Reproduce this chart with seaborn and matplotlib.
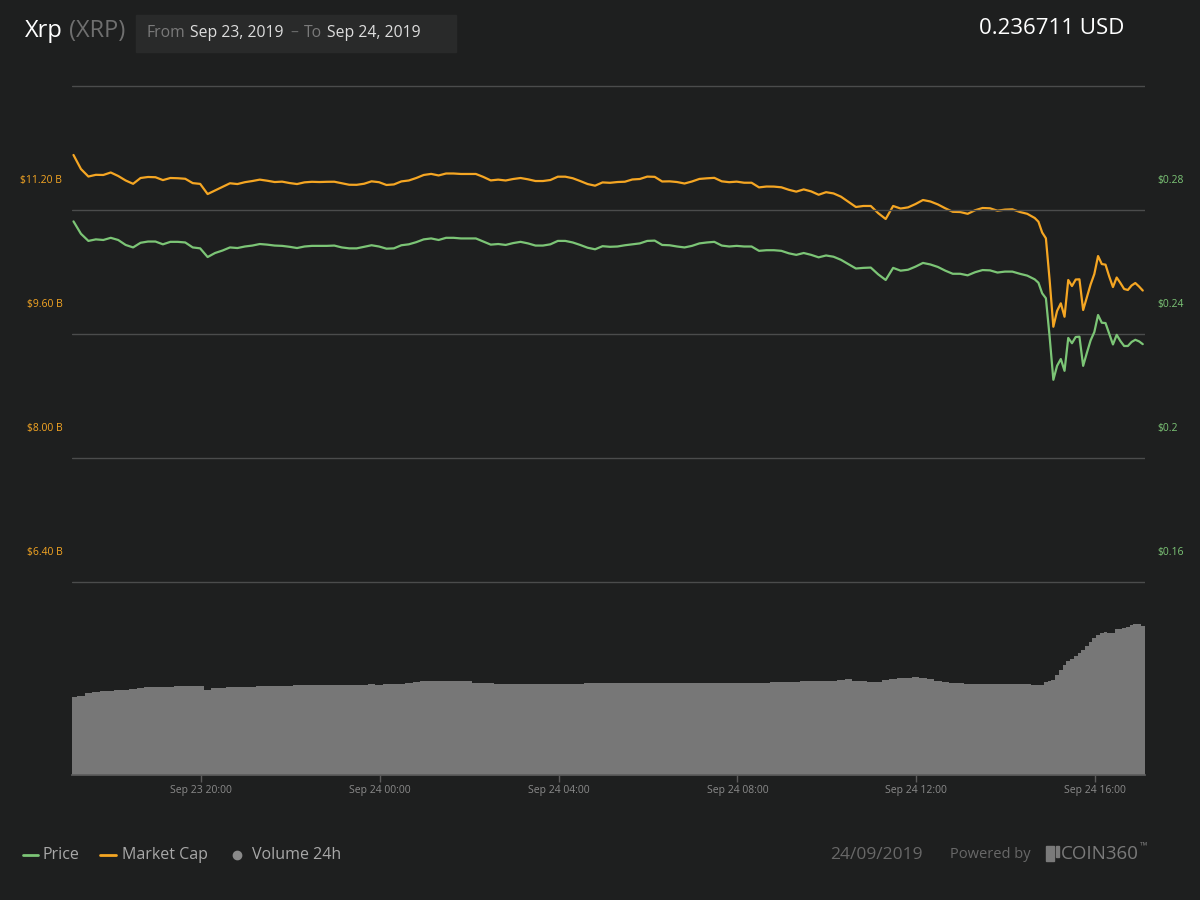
import numpy as np
import pandas as pd
import matplotlib
matplotlib.use("Agg")
import matplotlib.pyplot as plt
import matplotlib.dates as mdates
from matplotlib.lines import Line2D
from matplotlib.patches import Rectangle
import seaborn as sns

# ---- data ----
# 10-minute samples from Sep 23 17:09, then 5-minute samples for the last ~2.5 h
head_start = "2019-09-23 17:09"
tail_start = "2019-09-24 14:44"

price_head = [
    0.2763, 0.2723, 0.2700, 0.2705, 0.2703, 0.2710, 0.2703, 0.2687, 0.2679, 0.2694,
    0.2698, 0.2698, 0.2689, 0.2697, 0.2697, 0.2695, 0.2679, 0.2676, 0.2648, 0.2661,
    0.2669, 0.2679, 0.2677, 0.2682, 0.2685, 0.2690, 0.2688, 0.2685, 0.2684, 0.2681,
    0.2677, 0.2682, 0.2684, 0.2684, 0.2684, 0.2685, 0.2679, 0.2676, 0.2676, 0.2681,
    0.2686, 0.2682, 0.2675, 0.2676, 0.2686, 0.2689, 0.2696, 0.2705, 0.2708, 0.2703,
    0.2710, 0.2710, 0.2708, 0.2708, 0.2708, 0.2698, 0.2688, 0.2690, 0.2687, 0.2693,
    0.2697, 0.2692, 0.2685, 0.2685, 0.2689, 0.2700, 0.2700, 0.2695, 0.2687, 0.2678,
    0.2673, 0.2683, 0.2681, 0.2682, 0.2686, 0.2689, 0.2692, 0.2700, 0.2701, 0.2687,
    0.2686, 0.2682, 0.2679, 0.2684, 0.2692, 0.2695, 0.2697, 0.2685, 0.2682, 0.2684,
    0.2682, 0.2682, 0.2668, 0.2670, 0.2670, 0.2668, 0.2660, 0.2655, 0.2661, 0.2655,
    0.2647, 0.2653, 0.2649, 0.2639, 0.2625, 0.2611, 0.2613, 0.2614, 0.2592, 0.2574,
    0.2613, 0.2604, 0.2607, 0.2617, 0.2629, 0.2624, 0.2616, 0.2604, 0.2594, 0.2594,
    0.2589, 0.2599, 0.2606, 0.2605, 0.2598, 0.2601, 0.2601, 0.2594, 0.2588, 0.2576,
]
price_tail = [
    0.2565, 0.2531, 0.2515, 0.2391, 0.2252, 0.2297, 0.2319, 0.2281, 0.2387, 0.2370,
    0.2390, 0.2391, 0.2297, 0.2339, 0.2379, 0.2406, 0.2461, 0.2436, 0.2435, 0.2400,
    0.2366, 0.2397, 0.2377, 0.2361, 0.2361, 0.2374, 0.2381, 0.2376, 0.2367,
]

mcap_head = [
    11.910, 11.729, 11.632, 11.654, 11.652, 11.684, 11.639, 11.581, 11.538, 11.613,
    11.626, 11.623, 11.586, 11.613, 11.610, 11.603, 11.547, 11.537, 11.406, 11.452,
    11.497, 11.545, 11.535, 11.559, 11.574, 11.592, 11.578, 11.561, 11.566, 11.548,
    11.535, 11.557, 11.564, 11.561, 11.564, 11.565, 11.545, 11.526, 11.525, 11.539,
    11.570, 11.559, 11.523, 11.530, 11.569, 11.581, 11.613, 11.652, 11.666, 11.646,
    11.671, 11.671, 11.665, 11.665, 11.665, 11.627, 11.582, 11.592, 11.581, 11.600,
    11.613, 11.596, 11.574, 11.574, 11.587, 11.630, 11.630, 11.610, 11.574, 11.535,
    11.514, 11.556, 11.551, 11.561, 11.565, 11.594, 11.600, 11.631, 11.628, 11.568,
    11.570, 11.561, 11.542, 11.568, 11.601, 11.609, 11.615, 11.570, 11.559, 11.566,
    11.552, 11.552, 11.492, 11.503, 11.502, 11.493, 11.461, 11.437, 11.466, 11.440,
    11.397, 11.430, 11.414, 11.372, 11.306, 11.239, 11.252, 11.252, 11.159, 11.084,
    11.252, 11.219, 11.234, 11.277, 11.329, 11.310, 11.272, 11.222, 11.177, 11.174,
    11.151, 11.197, 11.226, 11.222, 11.191, 11.205, 11.209, 11.175, 11.151, 11.097,
]
mcap_tail = [
    11.049, 10.910, 10.835, 10.297, 9.694, 9.897, 9.996, 9.823, 10.297, 10.219,
    10.303, 10.306, 9.910, 10.077, 10.239, 10.374, 10.606, 10.503, 10.495, 10.342,
    10.206, 10.329, 10.258, 10.181, 10.168, 10.226, 10.258, 10.213, 10.161,
]

# 24h volume, $B (no scale shown on the chart)
vol_head = [
    0.777, 0.790, 0.820, 0.830, 0.840, 0.843, 0.847, 0.850, 0.860, 0.872,
    0.877, 0.880, 0.882, 0.885, 0.890, 0.890, 0.890, 0.895, 0.850, 0.867,
    0.875, 0.877, 0.880, 0.883, 0.885, 0.887, 0.890, 0.893, 0.895, 0.895,
    0.897, 0.897, 0.897, 0.897, 0.897, 0.897, 0.897, 0.897, 0.900, 0.905,
    0.907, 0.905, 0.907, 0.910, 0.915, 0.920, 0.930, 0.937, 0.937, 0.937,
    0.937, 0.937, 0.937, 0.937, 0.920, 0.920, 0.918, 0.915, 0.913, 0.910,
    0.910, 0.910, 0.910, 0.910, 0.910, 0.910, 0.910, 0.912, 0.915, 0.917,
    0.917, 0.917, 0.917, 0.917, 0.917, 0.917, 0.917, 0.917, 0.917, 0.917,
    0.917, 0.917, 0.917, 0.917, 0.917, 0.917, 0.917, 0.917, 0.917, 0.917,
    0.917, 0.917, 0.917, 0.917, 0.927, 0.927, 0.927, 0.935, 0.943, 0.943,
    0.943, 0.943, 0.943, 0.950, 0.957, 0.945, 0.940, 0.935, 0.933, 0.950,
    0.963, 0.970, 0.975, 0.977, 0.970, 0.957, 0.945, 0.930, 0.925, 0.920,
    0.913, 0.912, 0.910, 0.910, 0.910, 0.910, 0.907, 0.907, 0.907, 0.905,
]
vol_tail = [
    0.905, 0.900, 0.930, 0.940, 0.950, 1.000, 1.050, 1.100, 1.140, 1.160,
    1.190, 1.220, 1.250, 1.290, 1.330, 1.370, 1.405, 1.420, 1.427, 1.425,
    1.423, 1.460, 1.465, 1.467, 1.480, 1.500, 1.507, 1.510, 1.495,
]

price_ticks = [0.16, 0.20, 0.24, 0.28]
price_labels = ["$0.16", "$0.2", "$0.24", "$0.28"]
mcap_ticks = [6.40, 8.00, 9.60, 11.20]
mcap_labels = ["$6.40 B", "$8.00 B", "$9.60 B", "$11.20 B"]
x_ticks = ["2019-09-23 20:00", "2019-09-24 00:00", "2019-09-24 04:00",
           "2019-09-24 08:00", "2019-09-24 12:00", "2019-09-24 16:00"]

# ---- styling ----
BG = "#1e1f1f"
GREEN = "#7cc576"
ORANGE = "#f5a623"
GREY_BAR = "#777777"
W, H = 1200, 900

sns.set_theme(style="dark", rc={
    "figure.facecolor": BG, "axes.facecolor": BG, "savefig.facecolor": BG,
    "axes.edgecolor": "#5c5c5c", "text.color": "#aaaaaa",
    "xtick.color": "#5c5c5c", "ytick.color": "#5c5c5c",
})
plt.rcParams["font.family"] = ["Open Sans", "DejaVu Sans"]

t_head = pd.date_range(head_start, periods=len(price_head), freq="10min")
t_tail = pd.date_range(tail_start, periods=len(price_tail), freq="5min")
x = mdates.date2num(np.concatenate([t_head.to_pydatetime(), t_tail.to_pydatetime()]))
price = np.array(price_head + price_tail)
mcap = np.array(mcap_head + mcap_tail)
vol = np.array(vol_head + vol_tail)
widths = np.array([10 / 1440] * len(vol_head) + [5 / 1440] * len(vol_tail))

fig = plt.figure(figsize=(12, 9), dpi=100)
ax = fig.add_axes([72 / W, 1 - 775 / H, (1145 - 72) / W, (775 - 85) / H])
ax_m = ax.twinx()
ax_p = ax.twinx()

# volume
ax.bar(x, vol, width=widths, color=GREY_BAR, linewidth=0, align="center")
ax.set_ylim(0, 6.9)
ax.set_yticks([])
x0 = mdates.date2num(pd.Timestamp("2019-09-23 17:07"))
ax.set_xlim(x0, x0 + 1)
ax.set_xticks(mdates.date2num(pd.to_datetime(x_ticks)))
ax.xaxis.set_major_formatter(mdates.DateFormatter("%b %d %H:%M"))
ax.tick_params(axis="x", direction="out", length=5, width=1, colors="#5c5c5c",
               labelcolor="#8a8a8a", labelsize=7.5, pad=2, bottom=True)
for s in ["top", "left", "right"]:
    ax.spines[s].set_visible(False)
ax.spines["bottom"].set_color("#5c5c5c")

# market cap
sns.lineplot(x=x, y=mcap, ax=ax_m, color=ORANGE, linewidth=1.6)
ax_m.set_ylim(3.910, 12.813)
ax_m.set_yticks([])

# price + grid
sns.lineplot(x=x, y=price, ax=ax_p, color=GREEN, linewidth=1.6)
ax_p.set_ylim(0.0977, 0.3203)
ax_p.set_yticks(price_ticks + [0.32])
ax_p.tick_params(axis="y", length=0, labelright=False, labelleft=False)
ax_p.grid(True, axis="y", color="#4b4c4c", linewidth=1)
ax_p.grid(False, axis="x")
ax_p.set_axisbelow(True)

for a in (ax, ax_m, ax_p):
    a.set_xlabel("")
    a.set_ylabel("")
    for s in ["top", "left", "right"]:
        a.spines[s].set_visible(False)
for a in (ax_m, ax_p):
    a.spines["bottom"].set_visible(False)

for v, lab in zip(mcap_ticks, mcap_labels):
    ax_m.annotate(lab, xy=(0, v), xycoords=("axes fraction", "data"),
                  xytext=(-7, 21.5), textcoords="offset points",
                  ha="right", va="center", color=ORANGE, fontsize=7.5)
for v, lab in zip(price_ticks, price_labels):
    ax_p.annotate(lab, xy=(1, v), xycoords=("axes fraction", "data"),
                  xytext=(9, 21.5), textcoords="offset points",
                  ha="left", va="center", color=GREEN, fontsize=7.5)

# ---- header ----
renderer = fig.canvas.get_renderer()


def put_row(x_px, y_px, pieces):
    xp = x_px
    for s, color, size, gap in pieces:
        t = fig.text(xp / W, 1 - y_px / H, s, color=color, fontsize=size,
                     ha="left", va="center")
        xp += t.get_window_extent(renderer).width + gap
    return xp


fig.patches.append(Rectangle((136 / W, 1 - 52 / H), 320 / W, 37 / H,
                             transform=fig.transFigure, color="#292a2a", zorder=0))
put_row(25, 31, [("Xrp", "#ffffff", 17, 6), ("(XRP)", "#6f6f6f", 17, 0)])
put_row(146, 33, [("From", "#7a7a7a", 11.3, 5), ("Sep 23, 2019", "#dddddd", 11.3, 7),
                  ("–", "#6a6a6a", 11.3, 6), ("To", "#7a7a7a", 11.3, 5),
                  ("Sep 24, 2019", "#dddddd", 11.3, 0)])
fig.text(1124 / W, 1 - 29 / H, "0.236711 USD", color="#ffffff", fontsize=16,
         ha="right", va="center")

# ---- footer legend ----
fy = 1 - 855 / H
fig.add_artist(Line2D([23 / W, 38 / W], [fy, fy], color=GREEN, linewidth=2))
fig.text(42 / W, fy, "Price", color="#a8a8a8", fontsize=11.5, va="center")
fig.add_artist(Line2D([100 / W, 116 / W], [fy, fy], color=ORANGE, linewidth=2))
fig.text(122 / W, fy, "Market Cap", color="#a8a8a8", fontsize=11.5, va="center")
fig.add_artist(Line2D([237 / W], [fy], marker="o", markersize=6, color="#8a8a8a",
                      linestyle="none"))
fig.text(252 / W, fy, "Volume 24h", color="#a8a8a8", fontsize=11.5, va="center")

fig.text(830 / W, fy, "24/09/2019", color="#686868", fontsize=12.5, va="center")
fig.text(950 / W, fy, "Powered by", color="#686868", fontsize=10.5, va="center")
fig.patches.append(Rectangle((1046 / W, 1 - 861 / H), 8 / W, 15 / H,
                             transform=fig.transFigure, color="#7a7a7a"))
fig.patches.append(Rectangle((1056 / W, 1 - 857 / H), 3 / W, 11 / H,
                             transform=fig.transFigure, color="#7a7a7a"))
end = put_row(1061, 854, [("COIN360", "#7a7a7a", 13.5, 1)])
fig.text(end / W, 1 - 846 / H, "™", color="#7a7a7a", fontsize=7, va="center")

fig.savefig("out.png", dpi=100)
